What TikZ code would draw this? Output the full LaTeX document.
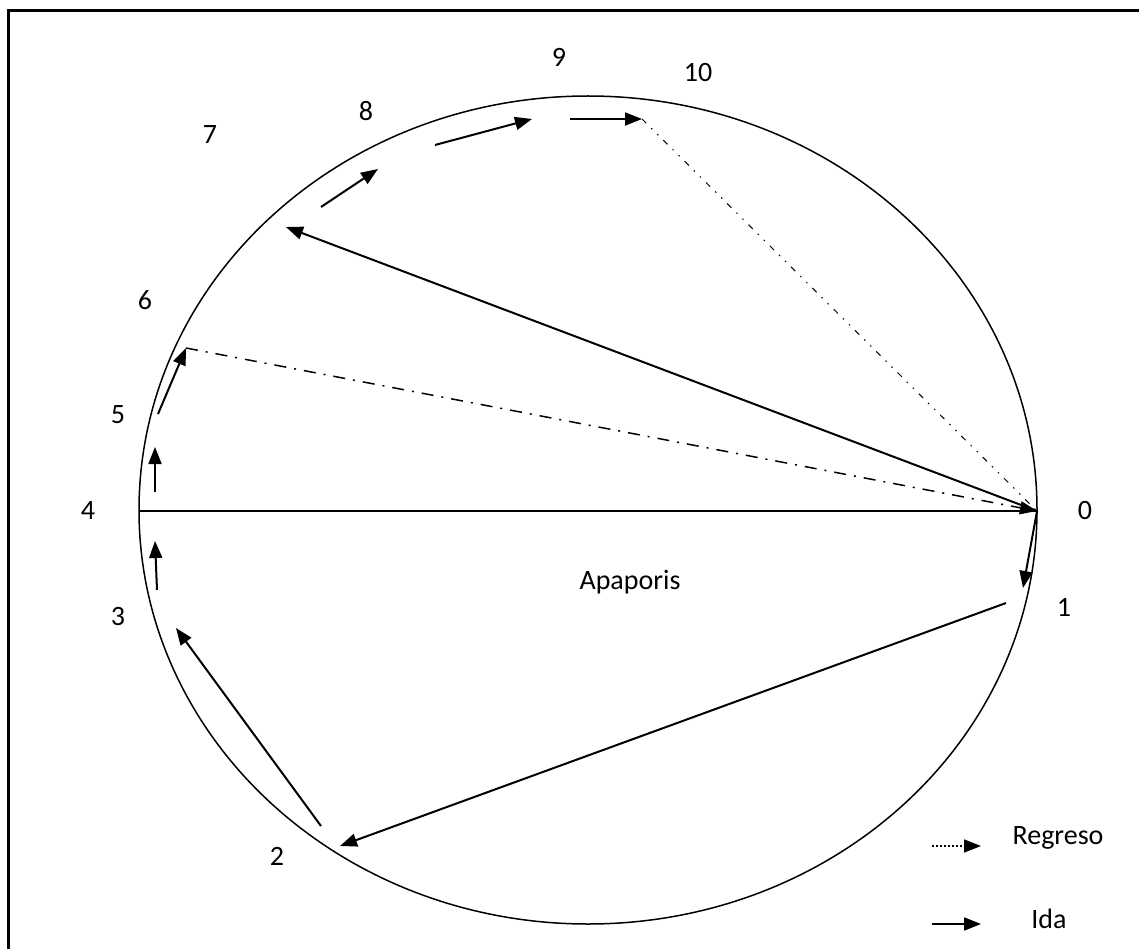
\documentclass[tikz,border=0pt]{standalone}
\usepackage{fontspec}
\setmainfont{Carlito}
\usetikzlibrary{arrows.meta}
\begin{document}
\begin{tikzpicture}[x=1pt,y=-1pt,
  ida/.style={line width=2pt,-{Triangle[length=17pt,width=13pt]}},
  regdashdot/.style={line width=1.5pt,dash pattern=on 12pt off 8pt on 2pt off 8pt,-{Triangle[length=17pt,width=13pt]}},
  regdotdot/.style={line width=1pt,dash pattern=on 6pt off 7pt on 1.5pt off 7pt on 1.5pt off 7pt},
  regleg/.style={line width=1.5pt,dash pattern=on 2pt off 2pt,-{Triangle[length=17pt,width=13pt]}},
  lbl/.style={font=\fontsize{28}{30}\selectfont, inner sep=0pt},
  frame/.style={line width=2.2pt},
  thin/.style={line width=1.5pt}]
\useasboundingbox (0,0) rectangle (1139,949);
% frame (only top and left edges visible)
\draw[frame] (8.5,949) -- (8.5,10.5) -- (1139,10.5);
% ellipse
\draw[thin] (588,510) ellipse [x radius=449pt, y radius=414pt];
% points
\coordinate (p0) at (1037,511);
\coordinate (p4) at (139,511);
\coordinate (a1) at (1023,588);
\coordinate (b1) at (1006,603);
\coordinate (a2) at (340,846);
\coordinate (b2) at (321,826);
\coordinate (a3) at (176,628);
\coordinate (b3) at (157,590);
\coordinate (a34) at (155,541);
\coordinate (a4) at (155,447);
\coordinate (b4) at (155,492);
\coordinate (a6) at (186,348);
\coordinate (b5) at (158,414);
\coordinate (a7) at (286,227);
\coordinate (b7) at (321,207);
\coordinate (a8) at (378,169);
\coordinate (b8) at (435,145);
\coordinate (a9) at (532,119);
\coordinate (b9) at (570,119);
\coordinate (a10) at (642,119);
% river line
\draw[thin] (p4) -- (p0);
% ida arrows
\draw[ida] (p0) -- (a1);
\draw[ida] (b1) -- (a2);
\draw[ida] (b2) -- (a3);
\draw[ida] (b3) -- (a34);
\draw[ida] (b4) -- (a4);
\draw[ida] (b5) -- (a6);
\draw[ida] (p0) -- (a7);
\draw[ida] (b7) -- (a8);
\draw[ida] (b8) -- (a9);
\draw[ida] (b9) -- (a10);
% regreso lines
\draw[regdashdot] (a6) -- (p0);
\draw[regdotdot] (a10) -- (p0);
% labels
\node[lbl] (l0) at (1085,511) {0};
\node[lbl] (l1) at (1064,607) {1};
\node[lbl] (l2) at (277,856) {2};
\node[lbl] (l3) at (118,617) {3};
\node[lbl] (l4) at (88,511) {4};
\node[lbl] (l5) at (118,415) {5};
\node[lbl] (l6) at (145,300) {6};
\node[lbl] (l7) at (210,135) {7};
\node[lbl] (l8) at (366,111) {8};
\node[lbl] (l9) at (559,57) {9};
\node[lbl] (l10) at (698,73) {10};
\node[lbl] (river) at (630,582) {Apaporis};
% legend
\coordinate (rg0) at (932,846);
\coordinate (rg1) at (981,846);
\coordinate (id0) at (932,924);
\coordinate (id1) at (981,924);
\draw[regleg] (rg0) -- (rg1);
\draw[ida] (id0) -- (id1);
\node[lbl] (regreso) at (1058,838) {Regreso};
\node[lbl] (idalbl) at (1049,919) {Ida};
\end{tikzpicture}
\end{document}
